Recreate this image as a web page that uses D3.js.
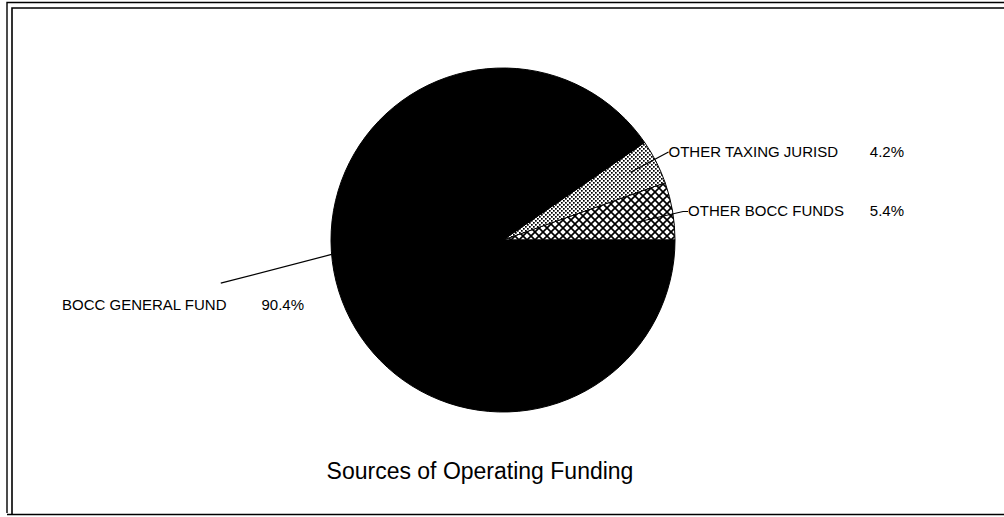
<!DOCTYPE html>
<html>
<head>
<meta charset="utf-8">
<script src="https://cdn.jsdelivr.net/npm/d3@7"></script>
<style>
  html, body { margin: 0; padding: 0; background: #fff; }
  svg { display: block; }
  text { font-family: "Liberation Sans", Arial, sans-serif; fill: #000; }
</style>
</head>
<body>
<svg id="chart" width="1004" height="517"></svg>
<script>
// Funding sources and their share of the operating budget (percent)
const categories = ["OTHER BOCC FUNDS", "OTHER TAXING JURISD", "BOCC GENERAL FUND"];
const shares = [5.4, 4.2, 90.4];
const chartTitle = "Sources of Operating Funding";

const W = 1004, H = 517;
const cx = 503, cy = 240, R = 172;

const svg = d3.select("#chart");

// fill patterns
const defs = svg.append("defs");
const hatch = defs.append("pattern")
  .attr("id", "crosshatch").attr("patternUnits", "userSpaceOnUse")
  .attr("width", 8).attr("height", 8);
hatch.append("rect").attr("width", 8).attr("height", 8).attr("fill", "#fff");
hatch.append("path")
  .attr("d", "M-1,-1L9,9M9,-1L-1,9")
  .attr("stroke", "#000").attr("stroke-width", 1.7).attr("fill", "none");

const stipple = defs.append("pattern")
  .attr("id", "stipple").attr("patternUnits", "userSpaceOnUse")
  .attr("width", 4).attr("height", 4);
stipple.append("rect").attr("width", 4).attr("height", 4).attr("fill", "#fff");
stipple.append("rect").attr("x", 0).attr("y", 0).attr("width", 1.7).attr("height", 1.7).attr("fill", "#000");
stipple.append("rect").attr("x", 2).attr("y", 2).attr("width", 1.7).attr("height", 1.7).attr("fill", "#000");

const sliceFill = ["url(#crosshatch)", "url(#stipple)", "#000"];

// frame: double rule on top and left, single rule at the bottom
const frame = svg.append("g").attr("stroke", "#000").attr("fill", "none");
frame.append("path").attr("d", `M7,513V2.5H${W}`).attr("stroke-width", 1.4);
frame.append("path").attr("d", `M12,515V8H${W}`).attr("stroke-width", 1.6);
frame.append("path").attr("d", `M7,514.5H${W}`).attr("stroke-width", 1.6);

// slices start at 3 o'clock and run counter-clockwise
const pie = d3.pie().sort(null).value(d => d)
  .startAngle(Math.PI / 2).endAngle(Math.PI / 2 - 2 * Math.PI);
const arcs = pie(shares);
const arc = d3.arc().innerRadius(0).outerRadius(R);

const g = svg.append("g").attr("transform", `translate(${cx},${cy})`);
g.selectAll("path.slice").data(arcs).join("path")
  .attr("class", "slice")
  .attr("d", arc)
  .attr("fill", (d, i) => sliceFill[i])
  .attr("stroke", "#000").attr("stroke-width", 1);

// label geometry: angles in degrees counter-clockwise from 3 o'clock, radii as fraction of R
const labelLayout = [
  { a0: 7.6, r0: 0.79, a1: 9.0, r1: 1.06, tail: 5, nameX: null, pctX: 904, dy: 5 },
  { a0: 28, r0: 0.84, a1: 28, r1: 1.09, tail: 0, nameX: null, pctX: 904, dy: 5 },
  { a0: 184.8, r0: 1.0, a1: 188.7, r1: 1.66, tail: 0, nameX: 62, pctX: 304, dy: 27 }
];
const polar = (deg, rf) => {
  const t = deg * Math.PI / 180;
  return [cx + R * rf * Math.cos(t), cy - R * rf * Math.sin(t)];
};
const fmt = d3.format(".1f");

labelLayout.forEach((L, i) => {
  const p0 = polar(L.a0, L.r0);
  const p1 = polar(L.a1, L.r1);
  const p2 = [p1[0] + L.tail, p1[1]];
  svg.append("path")
    .attr("d", d3.line()([p0, p1, p2]))
    .attr("fill", "none").attr("stroke", "#000").attr("stroke-width", 1.2);
  const nx = L.nameX != null ? L.nameX : p2[0];
  const by = p2[1] + L.dy;
  svg.append("text").attr("x", nx).attr("y", by)
    .attr("font-size", 15).text(categories[i]);
  svg.append("text").attr("x", L.pctX).attr("y", by)
    .attr("text-anchor", "end").attr("font-size", 15)
    .text(fmt(shares[i]) + "%");
});

svg.append("text").attr("x", 480).attr("y", 479)
  .attr("text-anchor", "middle").attr("font-size", 23)
  .text(chartTitle);
</script>
</body>
</html>
